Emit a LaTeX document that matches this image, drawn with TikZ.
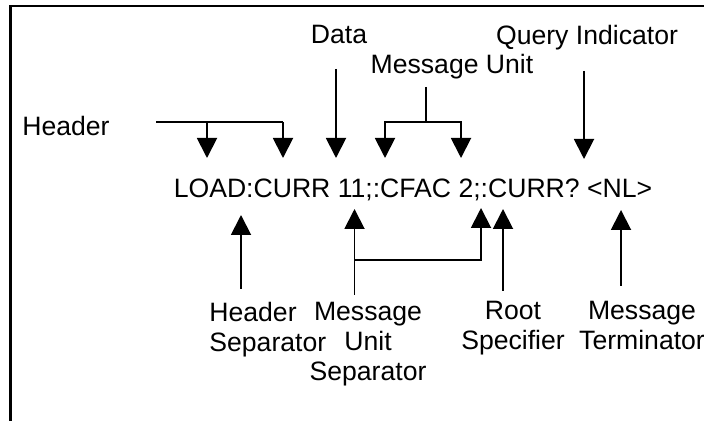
\documentclass[tikz,border=0pt]{standalone}
\usepackage{fontspec}
\setmainfont{Liberation Sans}
\usetikzlibrary{arrows.meta}

\begin{document}
\begin{tikzpicture}[
    x=0.5pt, y=-0.5pt,
    word/.style={inner sep=0pt, font=\fontsize{13.3}{14.9}\selectfont, anchor=base},
    caption/.style={inner sep=0pt, font=\fontsize{13.3}{14.9}\selectfont, anchor=north, align=center},
    arrow/.style={-{Triangle[width=10pt, length=10pt]}, line width=0.95pt},
    link/.style={line width=0.95pt},
    frame/.style={line width=1.2pt}
  ]
    \useasboundingbox (0,0) rectangle (704,421);

    % Frame (only left and top edges show)
    \draw[frame] (10.5,440) -- (10.5,6) -- (720,6);

    % Command line
    \node[word] (msg) at (413,198) {LOAD:CURR 11;:CFAC 2;:CURR? <NL>};

    % Top labels
    \node[word] (header) at (66,136) {Header};
    \node[word] (data) at (339,44) {Data};
    \node[word] (unit) at (452,74) {Message Unit};
    \node[word] (query) at (587,45) {Query Indicator};

    % Bottom labels
    \node[caption, anchor=north west, align=left] (hsep) at (209,302) {Header\\Separator};
    \node[caption] (usep) at (368,302) {Message\\Unit\\Separator};
    \node[caption] (root) at (513,301) {Root\\Specifier};
    \node[caption] (term) at (642,301) {Message\\Terminator};

    % Points of the top arrows
    \coordinate (hdA) at (156,122);
    \coordinate (hdB) at (207,122);
    \coordinate (hdC) at (283,122);
    \coordinate (hdBt) at (207,158);
    \coordinate (hdCt) at (283,158);
    \coordinate (dtA) at (336,69);
    \coordinate (dtt) at (336,158);
    \coordinate (muA) at (426,87);
    \coordinate (muB) at (426,122);
    \coordinate (muL) at (385,122);
    \coordinate (muR) at (461,122);
    \coordinate (muLt) at (385,158);
    \coordinate (muRt) at (461,158);
    \coordinate (qiA) at (584,71);
    \coordinate (qit) at (584,159);

    % Points of the bottom arrows
    \coordinate (hsA) at (241,289);
    \coordinate (hst) at (241,215);
    \coordinate (usA) at (354.5,295);
    \coordinate (usB) at (354.5,260);
    \coordinate (usC) at (481,260);
    \coordinate (ust) at (354.5,209);
    \coordinate (usCt) at (481,208);
    \coordinate (rsA) at (503,291);
    \coordinate (rst) at (503,209);
    \coordinate (mtA) at (621,286);
    \coordinate (mtt) at (621,210);

    % Top arrows
    \draw[link] (hdA) -- (hdC);
    \draw[arrow] (hdB) -- (hdBt);
    \draw[arrow] (hdC) -- (hdCt);
    \draw[arrow] (dtA) -- (dtt);
    \draw[link] (muA) -- (muB);
    \draw[arrow] (muB) -| (muL) -- (muLt);
    \draw[arrow] (muB) -| (muR) -- (muRt);
    \draw[arrow] (qiA) -- (qit);

    % Bottom arrows
    \draw[arrow] (hsA) -- (hst);
    \draw[arrow] (usA) -- (ust);
    \draw[arrow] (usB) -- (usC) -- (usCt);
    \draw[arrow] (rsA) -- (rst);
    \draw[arrow] (mtA) -- (mtt);
  \end{tikzpicture}
\end{document}
